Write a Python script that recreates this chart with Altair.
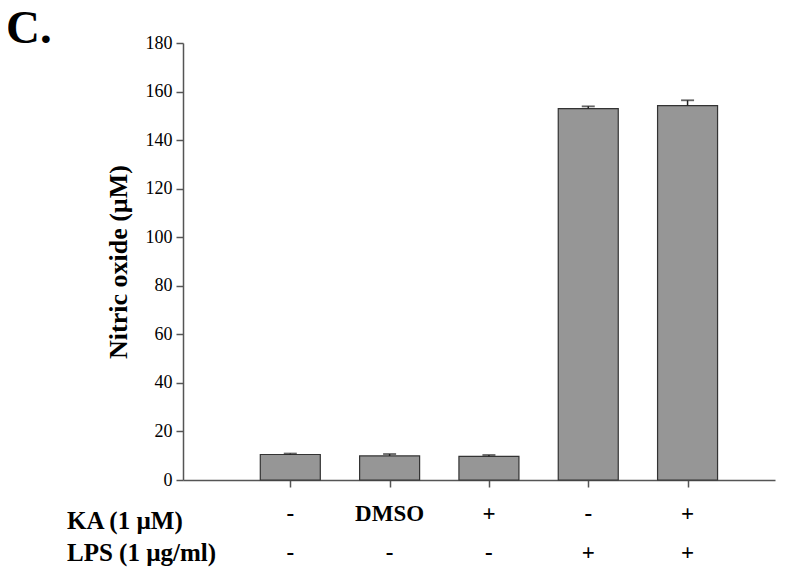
import altair as alt
import pandas as pd

ka = ["-", "DMSO", "+", "-", "+"]
lps = ["-", "-", "-", "+", "+"]
values = [10.5, 9.9, 9.7, 153.0, 154.2]
errors = [0.4, 0.8, 0.6, 0.9, 2.2]

df = pd.DataFrame({
    "idx": list(range(5)),
    "value": values,
    "top": [v + e for v, e in zip(values, errors)],
    "ka": ka,
    "lps": lps,
})

W, H = 592, 437
xscale = alt.Scale(domain=[-1.03, 4.83], nice=False, zero=False)
yscale = alt.Scale(domain=[0, 180], nice=False)
FONT = "Liberation Serif"

base = alt.Chart(df)

bars = base.mark_bar(size=60, color="#969696", stroke="#333333", strokeWidth=1.2).encode(
    x=alt.X("idx:Q", scale=xscale,
            axis=alt.Axis(values=[0, 1, 2, 3, 4], labels=False, title=None, grid=False,
                          tickSize=7, domainColor="#555555", tickColor="#555555",
                          domainWidth=1.5, tickWidth=1.5)),
    y=alt.Y("value:Q", scale=yscale,
            axis=alt.Axis(values=list(range(0, 181, 20)), title="Nitric oxide (µM)", grid=False,
                          tickSize=7, labelFont=FONT, labelFontSize=18, labelColor="#000000",
                          labelPadding=4, titleFont=FONT, titleFontSize=26, titleFontWeight="bold",
                          titleColor="#000000", titlePadding=14, domainColor="#555555",
                          tickColor="#555555", domainWidth=1.5, tickWidth=1.5)),
)

err_rule = base.mark_rule(color="#222222", strokeWidth=1.5).encode(
    x="idx:Q", y="value:Q", y2="top:Q"
)
err_cap = base.mark_tick(orient="horizontal", size=13, thickness=1.8, color="#222222").encode(
    x="idx:Q", y="top:Q"
)

row1 = base.mark_text(font=FONT, fontSize=23, fontWeight="bold", color="#000000", baseline="middle").encode(
    x="idx:Q", y=alt.value(471), text="ka:N"
)
row2 = base.mark_text(font=FONT, fontSize=23, fontWeight="bold", color="#000000", baseline="middle").encode(
    x="idx:Q", y=alt.value(510), text="lps:N"
)

hdr = pd.DataFrame({"label": ["KA (1 µM)", "LPS (1 µg/ml)"], "ypix": [478, 510]})
headers = alt.Chart(hdr).mark_text(font=FONT, fontSize=25, fontWeight="bold", color="#000000",
                                   align="left", baseline="middle").encode(
    x=alt.value(-116), y=alt.Y("ypix:Q", scale=None), text="label:N"
)

panel = pd.DataFrame({"label": ["C."]})
panel_txt = alt.Chart(panel).mark_text(font=FONT, fontSize=47, fontWeight="bold", color="#000000",
                                       align="left", baseline="alphabetic").encode(
    x=alt.value(-177), y=alt.value(0), text="label:N"
)

chart = alt.layer(bars, err_rule, err_cap, row1, row2, headers, panel_txt).properties(
    width=W, height=H,
    autosize=alt.AutoSizeParams(type="none"),
    padding={"left": 175, "top": 35, "right": 17, "bottom": 89},
).configure_view(stroke=None)

chart.save("out.html", embed_options={"renderer": "svg", "actions": False})
